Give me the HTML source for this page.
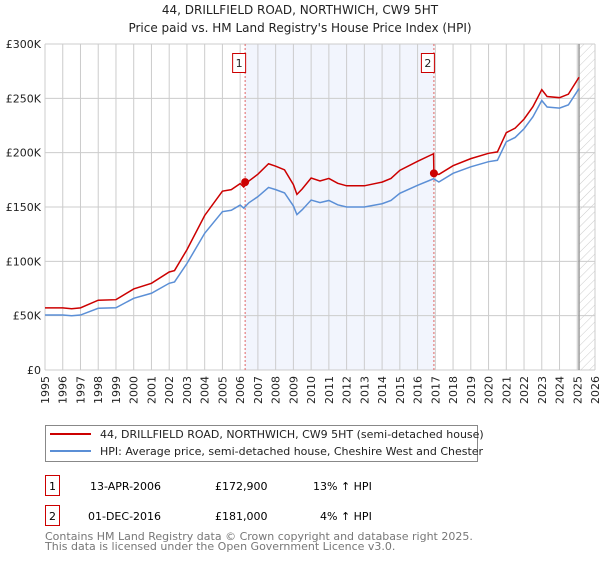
<!DOCTYPE html>
<html><head><meta charset="utf-8">
<style>
body{margin:0;background:#fff;font-family:"DejaVu Sans","Liberation Sans",sans-serif;}
svg text{font-family:"DejaVu Sans","Liberation Sans",sans-serif;}
</style></head>
<body>
<svg id="chart" width="600" height="560" xmlns="http://www.w3.org/2000/svg">
<defs>
<pattern id="hatch" patternUnits="userSpaceOnUse" width="6" height="6" patternTransform="rotate(45)">
<line x1="0" y1="0" x2="0" y2="6" stroke="#ccc" stroke-width="1"/>
</pattern>
</defs>
<text x="300" y="14" text-anchor="middle" font-size="12" fill="#222">44, DRILLFIELD ROAD, NORTHWICH, CW9 5HT</text>
<text x="300" y="32" text-anchor="middle" font-size="12" fill="#222">Price paid vs. HM Land Registry's House Price Index (HPI)</text>
<g id="plot"></g>
<g>
<rect x="45.5" y="425.5" width="432" height="36" fill="#fff" stroke="#888"/>
<line x1="50" y1="434" x2="91" y2="434" stroke="#cc0000" stroke-width="2"/>
<text x="100" y="438" font-size="11" fill="#222">44, DRILLFIELD ROAD, NORTHWICH, CW9 5HT (semi-detached house)</text>
<line x1="50" y1="451" x2="91" y2="451" stroke="#5b8fd6" stroke-width="2"/>
<text x="100" y="455" font-size="11" fill="#222">HPI: Average price, semi-detached house, Cheshire West and Chester</text>
</g>
<g>
<rect x="45.5" y="475.5" width="14" height="20" fill="#fff" stroke="#cc0000"/>
<text x="52.5" y="490" text-anchor="middle" font-size="11">1</text>
<text x="90" y="490" font-size="11">13-APR-2006</text>
<text x="215" y="490" font-size="11">£172,900</text>
<text x="313" y="490" font-size="11">13% ↑ HPI</text>
</g>
<g>
<rect x="45.5" y="505.5" width="14" height="20" fill="#fff" stroke="#cc0000"/>
<text x="52.5" y="520" text-anchor="middle" font-size="11">2</text>
<text x="88" y="520" font-size="11">01-DEC-2016</text>
<text x="215" y="520" font-size="11">£181,000</text>
<text x="320" y="520" font-size="11">4% ↑ HPI</text>
</g>
<text x="45" y="540" font-size="11" fill="#777">Contains HM Land Registry data © Crown copyright and database right 2025.</text>
<text x="45" y="550" font-size="11" fill="#777">This data is licensed under the Open Government Licence v3.0.</text>
</svg>
<script>
const hpiYears=[1995,1996,1996.5,1997,1998,1999,2000,2001,2002,2002.3,2003,2004,2005,2005.5,2006,2006.2,2006.5,2007,2007.6,2008,2008.5,2009,2009.2,2009.5,2010,2010.5,2011,2011.5,2012,2013,2014,2014.5,2015,2016,2016.9,2017.2,2018,2019,2020,2020.5,2021,2021.5,2022,2022.5,2023,2023.3,2024,2024.5,2025.1];
const hpiValues=[50.6,50.6,49.9,50.6,56.8,57.3,66,70.6,79.8,81,98,125.8,145.7,147,151.8,149,154,159.5,168,166,163,151,143,147.5,156.4,154,156,152,150,150,153,156,162.6,170,176,173,181,187,191.7,193,210,214,222,233,248,242,241,244,259];
const priceYears=[1995,1996,1996.5,1997,1998,1999,2000,2001,2002,2002.3,2003,2004,2005,2005.5,2006,2006.2,2006.5,2007,2007.6,2008,2008.5,2009,2009.2,2009.5,2010,2010.5,2011,2011.5,2012,2013,2014,2014.5,2015,2016,2016.9,2016.92,2017.2,2018,2019,2020,2020.5,2021,2021.5,2022,2022.5,2023,2023.3,2024,2024.5,2025.1];
const priceValues=[57.2,57.2,56.4,57.2,64.2,64.7,74.6,79.8,90.2,91.5,110.7,142.2,164.6,166,171.5,168.4,174,180.2,189.8,187.6,184.2,170.6,161.6,166.7,176.7,174,176.3,171.8,169.5,169.5,172.9,176.3,183.7,192,199,181,180,188,194.5,199.4,200.7,218.4,222.6,230.9,242.3,258,251.7,250.6,253.8,269.4];
const saleYears=[2006.28,2016.92];
const saleValues=[172.9,181];
const saleLabels=["1","2"];
const yTicks=[0,50,100,150,200,250,300];
const yTickLabels=["£0","£50K","£100K","£150K","£200K","£250K","£300K"];
const xTicks=[1995,1996,1997,1998,1999,2000,2001,2002,2003,2004,2005,2006,2007,2008,2009,2010,2011,2012,2013,2014,2015,2016,2017,2018,2019,2020,2021,2022,2023,2024,2025,2026];

const X0=45,X1=595,Y0=370,Y1=44;
const xs=y=>X0+(y-1995)/(2026-1995)*(X1-X0);
const ys=v=>Y0-v/300*(Y0-Y1);
const NS="http://www.w3.org/2000/svg";
const g=document.getElementById('plot');
function mk(t,a){const e=document.createElementNS(NS,t);for(const k in a)e.setAttribute(k,a[k]);g.appendChild(e);return e;}

const shade=mk('rect',{x:xs(saleYears[0]),y:Y1,width:xs(saleYears[1])-xs(saleYears[0]),height:Y0-Y1,fill:'#f2f5fd'});


const hat=mk('rect',{x:xs(2025.1),y:Y1,width:X1-xs(2025.1),height:Y0-Y1,fill:'url(#hatch)'});



xTicks.forEach(t=>{
  const l=mk('line',{x1:xs(t),x2:xs(t),y1:Y1,y2:Y0,stroke:'#ccc','stroke-width':1});
  
  
  const tx=mk('text',{x:0,y:0,'font-size':11,fill:'#222','text-anchor':'end',transform:`translate(${xs(t)+4},${Y0+6}) rotate(-90)`});
  tx.textContent=t;
  
  
});
yTicks.forEach((t,i)=>{
  const l=mk('line',{x1:X0,x2:X1,y1:ys(t),y2:ys(t),stroke:'#ccc','stroke-width':1});
  
  
  const tx=mk('text',{x:X0-4,y:ys(t)+4,'font-size':11,fill:'#222','text-anchor':'end'});
  tx.textContent=yTickLabels[i];
  
  
});
const nl=mk('line',{x1:xs(2025.1),x2:xs(2025.1),y1:Y1,y2:Y0,stroke:'#999','stroke-width':1.5});



saleYears.forEach((s,i)=>{
  const l=mk('line',{x1:xs(s),x2:xs(s),y1:Y1,y2:Y0,stroke:'#e06666','stroke-width':1,'stroke-dasharray':'2,2'});
  
  
  const b=mk('rect',{x:xs(s)-12.5,y:53.5,width:13,height:19,fill:'#fff',stroke:'#cc0000'});
  
  
  const t=mk('text',{x:xs(s)-6,y:67,'font-size':11,'text-anchor':'middle',fill:'#222'});
  t.textContent=saleLabels[i];
  
  
});

const hp=mk('polyline',{points:hpiYears.map((y,i)=>xs(y)+','+ys(hpiValues[i])).join(' '),fill:'none',stroke:'#5b8fd6','stroke-width':1.5});


const pp=mk('polyline',{points:priceYears.map((y,i)=>xs(y)+','+ys(priceValues[i])).join(' '),fill:'none',stroke:'#cc0000','stroke-width':1.5});


saleYears.forEach((s,i)=>{
  const c=mk('circle',{cx:xs(s),cy:ys(saleValues[i]),r:4,fill:'#cc0000'});
  
  
});
</script>
</body></html>
